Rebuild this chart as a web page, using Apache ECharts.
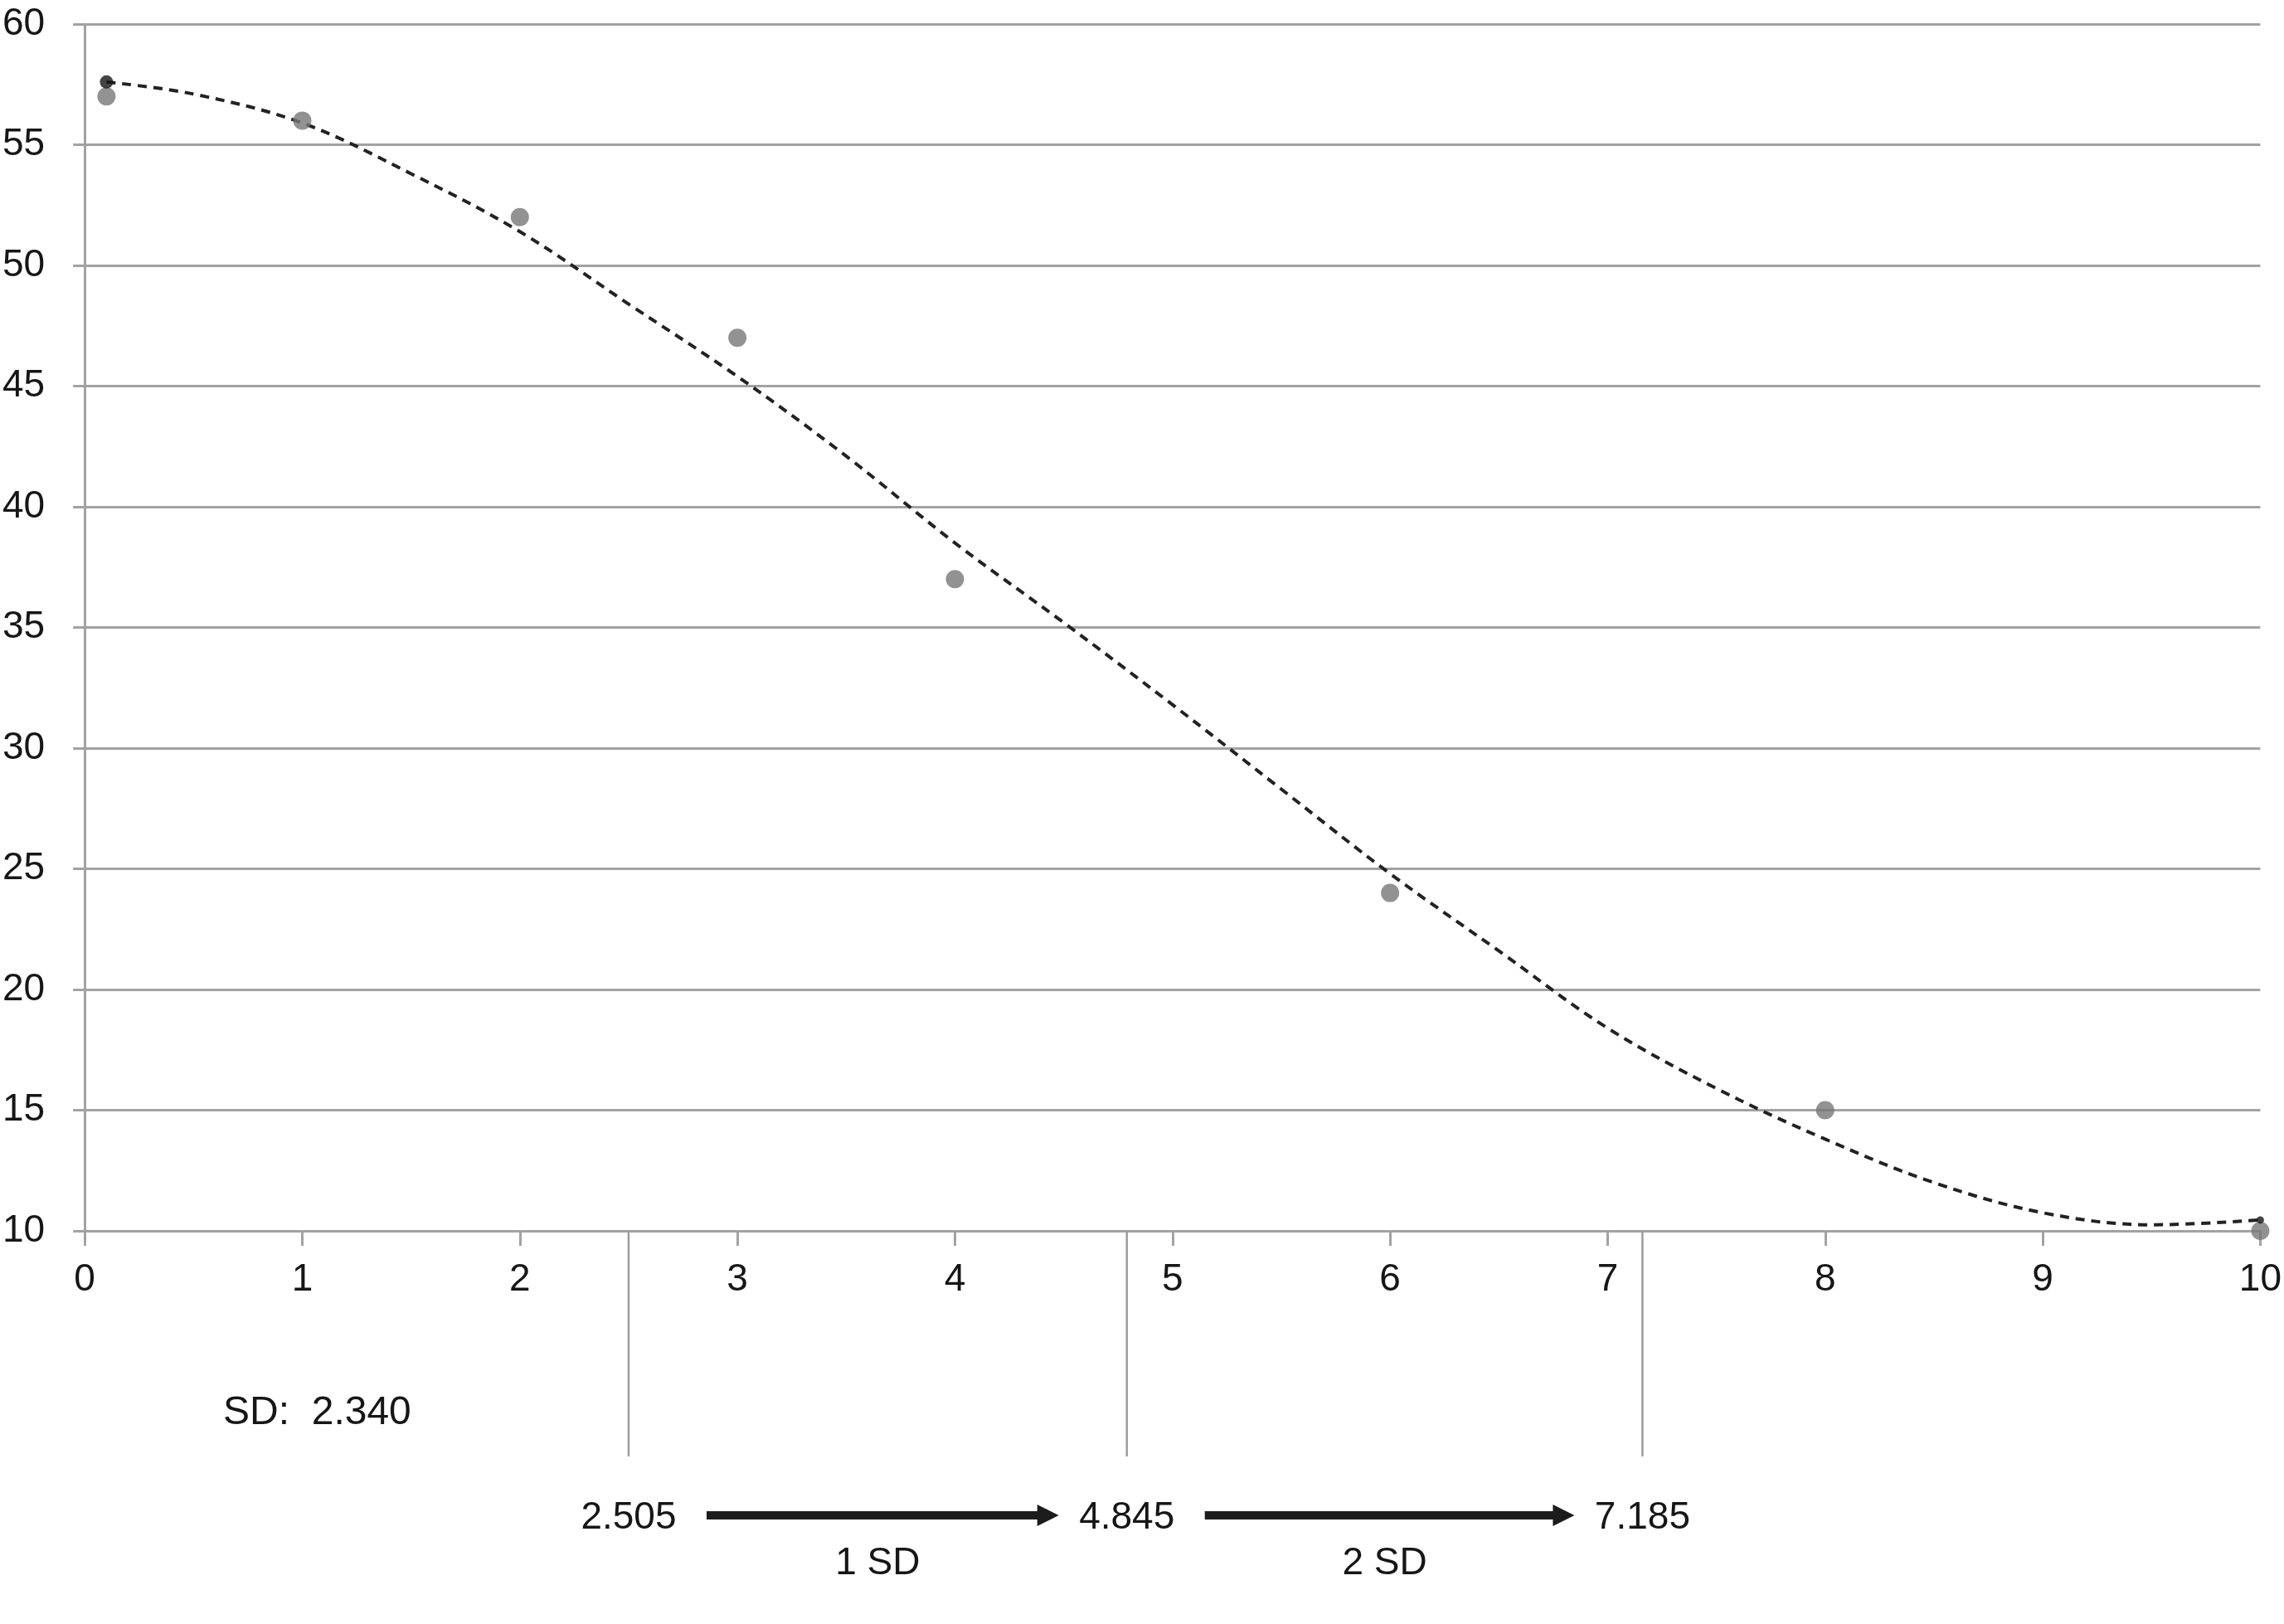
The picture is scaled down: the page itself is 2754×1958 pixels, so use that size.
<!DOCTYPE html>
<html><head><meta charset="utf-8">
<script src="https://cdn.jsdelivr.net/npm/echarts@6/dist/echarts.min.js"></script>
<style>html,body{margin:0;padding:0;background:#fff}#c{width:2754px;height:1958px}</style>
</head><body><div id="c"></div>
<script>
// ---- data ----
const pointX = [0.1, 1, 2, 3, 4, 6, 8, 10];
const pointY = [57, 56, 52, 47, 37, 24, 15, 10];
const trendX = [0.1, 0.5, 1, 1.5, 2, 2.5, 3, 3.5, 4, 4.5, 5, 5.5, 6, 6.5, 7, 7.5, 8, 8.5, 9, 9.5, 10];
const trendY = [57.6, 57.1, 55.9, 53.8, 51.4, 48.4, 45.4, 42.1, 38.5, 35.2, 31.8, 28.3, 24.8, 21.6, 18.4, 15.9, 13.8, 12.0, 10.75, 10.25, 10.45];
const trendEndX = [0.1, 10];
const trendEndY = [57.6, 10.45];
const xTicks = [0, 10, 1];   // min, max, interval
const yTicks = [10, 60, 5];  // min, max, interval
const sdText = 'SD:  2.340';
const sdLineX = [2.50, 4.79, 7.16];          // where the marker lines are drawn in the picture
const sdMarkLabels = ['2.505', '4.845', '7.185'];
const sdSpanLabels = ['1 SD', '2 SD'];

// ---- chart ----
const FONT = '"Liberation Sans", Arial, Helvetica, sans-serif';
const GRAY = '#a2a2a2';
const TXT = '#161616';
const chart = echarts.init(document.getElementById('c'), null, {renderer: 'canvas'});
const zip = (a, b) => a.map((v, i) => [v, b[i]]);

chart.setOption({
  animation: false,
  backgroundColor: '#fff',
  grid: {left: 100, right: 26, top: 29, bottom: 474, containLabel: false},
  xAxis: {
    type: 'value', min: xTicks[0], max: xTicks[1], interval: xTicks[2],
    axisLine: {show: true, lineStyle: {color: GRAY, width: 3}},
    axisTick: {show: true, length: 18, lineStyle: {color: GRAY, width: 3}},
    axisLabel: {color: TXT, fontSize: 46, fontFamily: FONT, margin: 36},
    splitLine: {show: false}
  },
  yAxis: {
    type: 'value', min: yTicks[0], max: yTicks[1], interval: yTicks[2],
    axisLine: {show: true, lineStyle: {color: GRAY, width: 3}},
    axisTick: {show: true, length: 14, lineStyle: {color: GRAY, width: 3}},
    axisLabel: {color: TXT, fontSize: 46, fontFamily: FONT, margin: 48},
    splitLine: {show: true, lineStyle: {color: GRAY, width: 3}}
  },
  series: [
    {
      type: 'line', data: zip(trendX, trendY), smooth: 0.35, showSymbol: false, z: 3,
      lineStyle: {color: '#222', width: 4, type: [11, 8]}
    },
    {
      type: 'scatter', data: zip(pointX, pointY), symbolSize: 22, z: 4,
      itemStyle: {color: '#777'}
    },
    {
      type: 'scatter', data: zip(trendEndX, trendEndY), z: 5,
      symbolSize: (v, p) => p.dataIndex === 0 ? 16 : 9,
      itemStyle: {color: '#151515'}
    }
  ]
});

// ---- annotations below the axis, positioned through the x scale ----
const px = v => chart.convertToPixel({xAxisIndex: 0}, v);
const axisY = chart.convertToPixel({yAxisIndex: 0}, yTicks[0]);
const els = [];
const txt = (t, x, y, size, align) => ({
  type: 'text', z: 10,
  style: {text: t, x: x, y: y, fill: TXT, fontSize: size, fontFamily: FONT,
          align: align, verticalAlign: 'middle', textAlign: align, textVerticalAlign: 'middle'}
});
sdLineX.forEach((m, i) => {
  const x = px(m);
  els.push({type: 'line', z: 10, shape: {x1: x, y1: axisY, x2: x, y2: 1756},
            style: {stroke: '#9c9c9c', lineWidth: 2.5}});
  els.push(txt(sdMarkLabels[i], x, 1830, 46, 'center'));
});
const arrowY = 1827;
for (let i = 0; i < sdLineX.length - 1; i++) {
  const xs = px(sdLineX[i]) + 94;
  const xe = px(sdLineX[i + 1]) - 82;
  els.push({type: 'line', z: 10, shape: {x1: xs, y1: arrowY, x2: xe - 20, y2: arrowY},
            style: {stroke: '#1c1c1c', lineWidth: 10}});
  els.push({type: 'polygon', z: 10,
            shape: {points: [[xe - 26, arrowY - 13], [xe, arrowY], [xe - 26, arrowY + 13]]},
            style: {fill: '#1c1c1c'}});
  els.push(txt(sdSpanLabels[i], (px(sdLineX[i]) + px(sdLineX[i + 1])) / 2, 1885, 46, 'center'));
}
els.push(txt(sdText, 269, 1704, 48, 'left'));
chart.setOption({graphic: {elements: els}});
</script>
</body></html>
